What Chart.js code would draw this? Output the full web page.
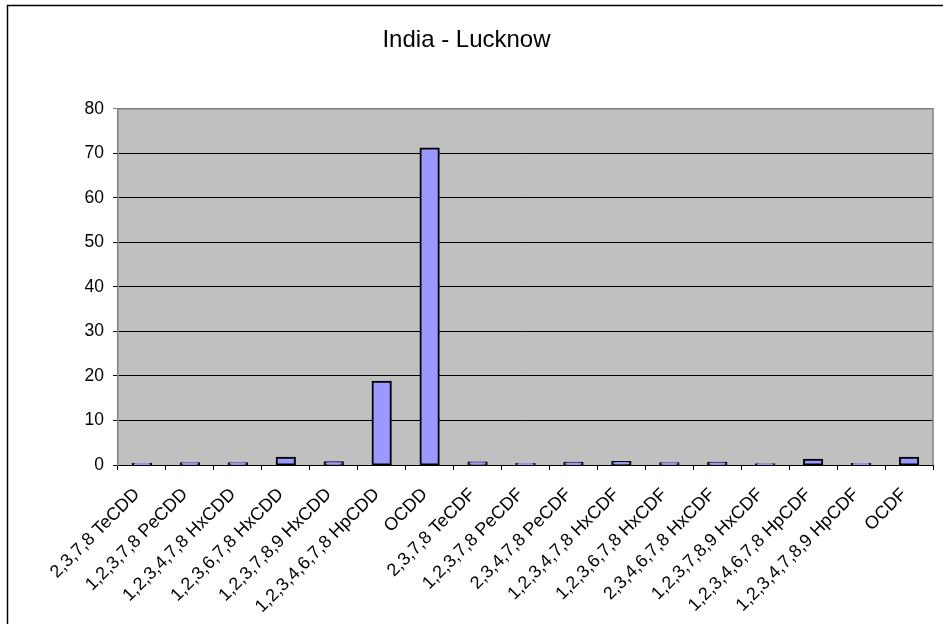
<!DOCTYPE html>
<html>
<head>
<meta charset="utf-8">
<script src="https://cdn.jsdelivr.net/npm/chart.js@4/dist/chart.umd.min.js"></script>
<style>
  html, body { margin: 0; padding: 0; background: #ffffff; }
  #wrap { width: 943px; height: 624px; }
</style>
</head>
<body>
<div id="wrap"><canvas id="c" width="943" height="624"></canvas></div>
<script>
const chartTitle = "India - Lucknow";
const categories = [
  "2,3,7,8 TeCDD",
  "1,2,3,7,8 PeCDD",
  "1,2,3,4,7,8 HxCDD",
  "1,2,3,6,7,8 HxCDD",
  "1,2,3,7,8,9 HxCDD",
  "1,2,3,4,6,7,8 HpCDD",
  "OCDD",
  "2,3,7,8 TeCDF",
  "1,2,3,7,8 PeCDF",
  "2,3,4,7,8 PeCDF",
  "1,2,3,4,7,8 HxCDF",
  "1,2,3,6,7,8 HxCDF",
  "2,3,4,6,7,8 HxCDF",
  "1,2,3,7,8,9 HxCDF",
  "1,2,3,4,6,7,8 HpCDF",
  "1,2,3,4,7,8,9 HpCDF",
  "OCDF"
];
const values = [0.25, 0.4, 0.4, 1.65, 0.6, 18.7, 71.1, 0.55, 0.25, 0.5, 0.65, 0.4, 0.5, 0.15, 1.2, 0.25, 1.65];
const yMin = 0;
const yMax = 80;
const yStep = 10;

const FONT = "'Liberation Sans', Arial, sans-serif";

const frameAndPlot = {
  id: 'frameAndPlot',
  beforeDraw(chart) {
    const ctx = chart.ctx;
    const a = chart.chartArea;
    ctx.save();
    ctx.fillStyle = '#ffffff';
    ctx.fillRect(0, 0, chart.width, chart.height);
    ctx.strokeStyle = '#000000';
    ctx.lineWidth = 1.5;
    ctx.strokeRect(7.5, 5.5, chart.width + 20, chart.height + 20);
    ctx.fillStyle = '#c0c0c0';
    ctx.fillRect(a.left, a.top, a.right - a.left, a.bottom - a.top);
    ctx.restore();
  },
  afterDatasetsDraw(chart) {
    const ctx = chart.ctx;
    const a = chart.chartArea;
    ctx.save();
    ctx.strokeStyle = '#808080';
    ctx.lineWidth = 1.5;
    ctx.beginPath();
    ctx.moveTo(a.left, a.top);
    ctx.lineTo(a.right, a.top);
    ctx.lineTo(a.right, a.bottom);
    ctx.stroke();
    ctx.restore();
  }
};

new Chart(document.getElementById('c'), {
  type: 'bar',
  data: {
    labels: categories,
    datasets: [{
      data: values,
      backgroundColor: '#9999ff',
      borderColor: '#000000',
      borderWidth: 2,
      borderSkipped: false,
      inflateAmount: 1,
      categoryPercentage: 1.0,
      barPercentage: 0.38
    }]
  },
  options: {
    responsive: false,
    animation: false,
    devicePixelRatio: 1,
    layout: { padding: { left: 0, right: 10, top: 0, bottom: 0 } },
    plugins: {
      legend: { display: false },
      tooltip: { enabled: false },
      title: {
        display: true,
        text: chartTitle,
        color: '#000000',
        font: { family: FONT, size: 24, weight: 'normal' },
        padding: { top: 26, bottom: 54 }
      }
    },
    scales: {
      x: {
        offset: true,
        afterFit(scale) { scale.height = 159; },
        grid: {
          display: true,
          offset: true,
          drawOnChartArea: false,
          drawTicks: true,
          tickLength: 5,
          color: '#000000'
        },
        border: { display: true, color: '#000000', width: 1 },
        ticks: {
          autoSkip: false,
          minRotation: 45,
          maxRotation: 45,
          padding: 14,
          labelOffset: -5,
          color: '#000000',
          font: { family: FONT, size: 18 }
        }
      },
      y: {
        min: yMin,
        max: yMax,
        afterFit(scale) { scale.width = 118; },
        grid: {
          color: (c) => (c.tick && c.tick.value === yMax) ? '#808080' : '#000000',
          lineWidth: 1,
          drawTicks: true,
          tickLength: 5
        },
        border: { display: true, color: '#808080', width: 1.5 },
        ticks: {
          stepSize: yStep,
          padding: 9,
          color: '#000000',
          font: { family: FONT, size: 17.5 }
        }
      }
    }
  },
  plugins: [frameAndPlot]
});
</script>
</body>
</html>
